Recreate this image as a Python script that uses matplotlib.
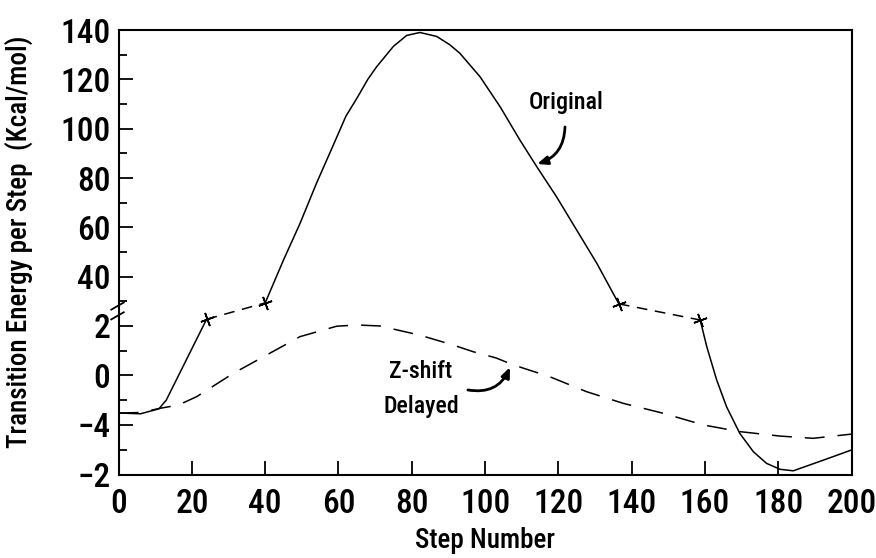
import numpy as np
import matplotlib
matplotlib.use("Agg")
import matplotlib.pyplot as plt

# ---------------- data ----------------
orig_steps = [0, 6, 11, 13, 24]
orig_vals = [-1.52, -1.55, -1.35, -1.0, 2.26]
orig_bridge1_steps = [24, 40]
orig_bridge1_vals = [2.26, 29.4]
orig_peak_steps = [40, 45, 49.5, 54, 58.6, 62, 65, 68, 70.4, 75, 78.6, 82.2, 86.8, 90.4,
                   93.1, 98.6, 104.1, 109.5, 114.1, 119.5, 125, 130.5, 136.5]
orig_peak_vals = [29.4, 46.8, 61.6, 77.9, 93.4, 105.0, 112.3, 120.0, 125.1, 133.4, 137.8, 139.0, 137.4, 134.0,
                  130.6, 121.1, 108.9, 95.4, 84.6, 72.4, 58.9, 45.4, 29.0]
orig_bridge2_steps = [136.5, 158.7]
orig_bridge2_vals = [29.0, 2.23]
orig_tail_steps = [158.7, 160.5, 163.2, 165.9, 169.5, 173.2, 176.8, 180.5, 184.1, 192.3, 200]
orig_tail_vals = [2.23, 1.15, -0.19, -1.27, -2.34, -3.08, -3.55, -3.79, -3.85, -3.42, -3.01]

z_steps = [0, 6, 11.3, 16.3, 21.3, 31.3, 40.4, 49.5, 59.5, 65, 71.3, 82.2, 91.3, 96.8, 103,
           107.7, 117.7, 127.7, 137.7, 148.6, 159.5, 169.5, 180.5, 189.5, 200]
z_vals = [-1.52, -1.5, -1.33, -1.2, -0.86, 0.08, 0.82, 1.56, 1.98, 2.03, 1.99, 1.62, 1.22, 0.95, 0.7,
          0.42, -0.06, -0.66, -1.13, -1.53, -2.0, -2.27, -2.45, -2.54, -2.37]

x_ticks = [0, 20, 40, 60, 80, 100, 120, 140, 160, 180, 200]
y_ticks = [-4, -2, 0, 2, 40, 60, 80, 100, 120, 140]
y_tick_labels = ["\u22122", "\u22124", "0", "2", "40", "60", "80", "100", "120", "140"]
y_minor = [-3, -1, 1, 30, 50, 70, 90, 110, 130]

# ---------------- fonts ----------------
plt.rcParams["font.family"] = ["Roboto Condensed", "DejaVu Sans"]
plt.rcParams["font.weight"] = 500
plt.rcParams["axes.labelweight"] = 500

# ---------------- broken y scale ----------------
_xp = np.array([-100.0, 2.5, 28.0, 1000.0])
_fp = np.array([99.2 + 24.8 * -100.0, 99.2 + 24.8 * 2.5,
                197.8 + 2.467 * (28 - 40), 197.8 + 2.467 * (1000 - 40)])

def fwd(v):
    return np.interp(v, _xp, _fp)

def inv(p):
    return np.interp(p, _fp, _xp)

fig = plt.figure(figsize=(8.76, 5.58), dpi=100)
ax = fig.add_axes([0.1354, 0.1496, 0.9721 - 0.1354, 0.9462 - 0.1496])
ax.set_yscale("function", functions=(fwd, inv))
ax.set_xlim(0, 200)
ax.set_ylim(-4, 140)

lw = 1.1
ax.plot(orig_steps, orig_vals, color="black", lw=lw)
ax.plot(orig_peak_steps, orig_peak_vals, color="black", lw=lw)
ax.plot(orig_tail_steps, orig_tail_vals, color="black", lw=lw)
for s, v in ((orig_bridge1_steps, orig_bridge1_vals), (orig_bridge2_steps, orig_bridge2_vals)):
    ln, = ax.plot(s, v, color="black", lw=lw)
    ln.set_dashes([7, 5])
mk_s = [orig_bridge1_steps[0], orig_bridge1_steps[1], orig_bridge2_steps[0], orig_bridge2_steps[1]]
mk_v = [orig_bridge1_vals[0], orig_bridge1_vals[1], orig_bridge2_vals[0], orig_bridge2_vals[1]]
ax.plot(mk_s, mk_v, ls="none", marker=(4, 2, 20), ms=10, mew=1.2, color="black")

zl, = ax.plot(z_steps, z_vals, color="black", lw=lw)
zl.set_dashes([13, 8.5])

ax.set_xticks(x_ticks)
ax.set_yticks(y_ticks)
ax.set_yticklabels(y_tick_labels)
ax.set_yticks(y_minor, minor=True)
ax.tick_params(axis="both", which="major", direction="in", length=10, width=1.3,
               labelsize=24)
ax.tick_params(axis="y", which="major", pad=6)
ax.tick_params(axis="x", which="major", pad=9.5)
ax.tick_params(axis="y", which="minor", direction="in", length=6, width=1.3)
ax.tick_params(axis="x", which="minor", length=0)
ax.tick_params(top=False, right=False)
for sp in ax.spines.values():
    sp.set_linewidth(1.5)

ax.set_xlabel("Step Number", fontsize=19.5, labelpad=5)
ax.set_ylabel("Transition Energy per Step  (Kcal/mol)", fontsize=19.5)
ax.yaxis.set_label_coords(-0.117, 0.523)

# axis break marks
for yb in (0.357, 0.379):
    ax.plot([-0.010, 0.007], [yb - 0.008, yb + 0.008], transform=ax.transAxes,
            color="black", lw=1.3, clip_on=False)

ax.text(122.0, 110.5, "Original", fontsize=17.3, ha="center", va="center")
ax.annotate("", xy=(114.2, 85.7), xytext=(121.8, 100.7),
            arrowprops=dict(arrowstyle="-|>,head_length=0.6,head_width=0.25", lw=2,
                            color="black", connectionstyle="arc3,rad=-0.35",
                            shrinkA=0, shrinkB=0))
ax.text(82.5, -0.55, "Z-shift\nDelayed", fontsize=17.2, ha="center", va="center",
        linespacing=1.7)
ax.annotate("", xy=(106.8, 0.33), xytext=(95.3, -0.59),
            arrowprops=dict(arrowstyle="-|>,head_length=0.6,head_width=0.25", lw=2,
                            color="black", connectionstyle="arc3,rad=0.39",
                            shrinkA=0, shrinkB=0))

fig.savefig("out.png", dpi=100)
